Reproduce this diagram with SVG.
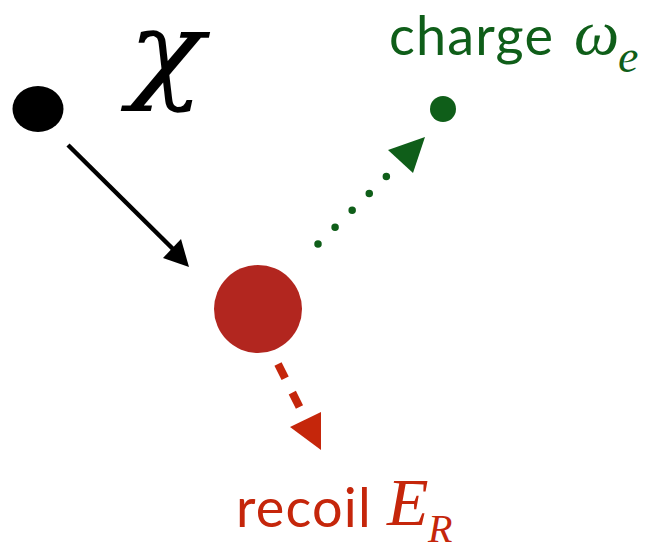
<svg xmlns="http://www.w3.org/2000/svg" width="646" height="545" viewBox="0 0 646 545">
<style>
.lbl{font-family:Lato,"Noto Sans",sans-serif;font-size:54px;letter-spacing:1.2px}
.math{font-family:"Liberation Serif","DejaVu Serif",serif;font-style:italic}
.green{fill:#0f5e19}
.red{fill:#c5260b}
</style>
<rect width="646" height="545" fill="#ffffff"/>
<g id="connectors">
<line x1="68" y1="145" x2="174" y2="250" stroke="#000" stroke-width="4.5"/>
<polygon points="163,258 181,239 189,267" fill="#000"/>
<line x1="318" y1="244" x2="392" y2="171" stroke="#0f5e19" stroke-width="7.5" stroke-linecap="round" stroke-dasharray="0 24"/>
<polygon points="388,150 425,137 413,173" fill="#0f5e19"/>
<line x1="278" y1="364" x2="305" y2="418" stroke="#c5260b" stroke-width="8" stroke-dasharray="16 16"/>
<polygon points="290,427 321,412 321,450" fill="#c5260b"/>
</g>
<g id="chi">
<ellipse cx="38" cy="109" rx="25.5" ry="23" fill="#000"/>
<text x="128" y="88" font-family="'DejaVu Serif',serif" font-style="italic" font-size="108" textLength="76" lengthAdjust="spacingAndGlyphs">χ</text>
</g>
<g id="nucleus">
<circle cx="258" cy="309" r="44" fill="#b2261f"/>
</g>
<g id="charge">
<circle cx="443" cy="109" r="13" fill="#0f5e19"/>
<text class="lbl green" x="389" y="55">charge</text>
<text class="math green" x="574" y="54" font-size="64">ω</text>
<text class="math green" x="618" y="72" font-size="46">e</text>
</g>
<g id="recoil">
<text class="lbl red" x="236" y="527">recoil</text>
<text class="math red" x="387" y="525" font-size="68">E</text>
<text class="math red" x="428" y="542" font-size="40">R</text>
</g>
</svg>
